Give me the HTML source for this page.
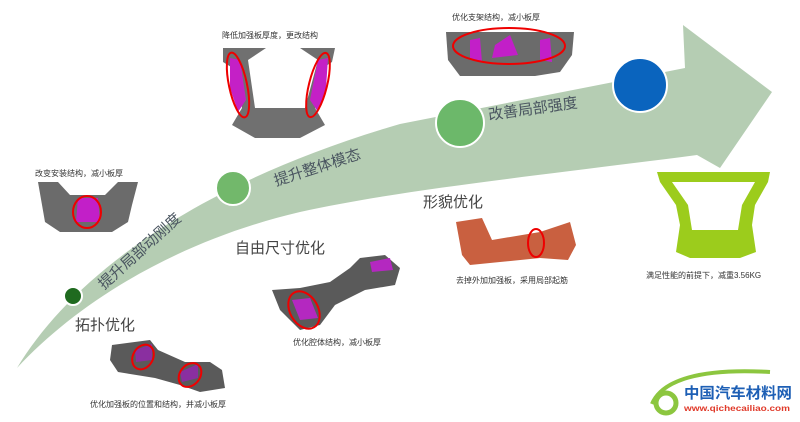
<!DOCTYPE html>
<html><head><meta charset="utf-8"><style>
html,body{margin:0;padding:0;background:#fff;width:800px;height:422px;overflow:hidden}
svg text{font-family:"Liberation Sans","Noto Sans CJK SC",sans-serif}
</style></head><body>
<svg width="800" height="422" viewBox="0 0 800 422" xmlns="http://www.w3.org/2000/svg">
<path d="M17,368 C70,280 190,185 400,124 L685,68 L683,25 L772,92 L720,168 L697,155 C520,178 400,190 300,212 C180,240 80,300 17,368 Z" fill="#b5cdb3"/>
<circle cx="640" cy="85" r="27" fill="#0a64be" stroke="#fff" stroke-width="2"/>
<circle cx="460" cy="123" r="24" fill="#6cb86a" stroke="#fff" stroke-width="2"/>
<circle cx="233" cy="188" r="17" fill="#72b86b" stroke="#fff" stroke-width="2"/>
<circle cx="73" cy="296" r="9" fill="#1f6a1f" stroke="#fff" stroke-width="2"/>
<text x="0" y="0" font-size="15" fill="#4a5560" transform="translate(104,290) rotate(-42)">提升局部动刚度</text>
<text x="0" y="0" font-size="15" fill="#4a5560" transform="translate(276,186) rotate(-18)">提升整体模态</text>
<text x="0" y="0" font-size="15" fill="#4a5560" transform="translate(489,120) rotate(-8)">改善局部强度</text>
<text x="75" y="330" font-size="15" fill="#444">拓扑优化</text>
<text x="235" y="253" font-size="15" fill="#444">自由尺寸优化</text>
<text x="423" y="207" font-size="15" fill="#444">形貌优化</text>
<text x="35" y="176" font-size="8" fill="#333">改变安装结构，减小板厚</text>
<text x="222" y="38" font-size="8" fill="#333">降低加强板厚度，更改结构</text>
<text x="452" y="20" font-size="8" fill="#333">优化支架结构，减小板厚</text>
<text x="293" y="345" font-size="8" fill="#333">优化腔体结构，减小板厚</text>
<text x="90" y="407" font-size="8" fill="#333">优化加强板的位置和结构，并减小板厚</text>
<text x="456" y="283" font-size="8" fill="#333">去掉外加加强板，采用局部起筋</text>
<text x="646" y="278" font-size="8" fill="#333">满足性能的前提下，减重3.56KG</text>
<path d="M38,182 L58,182 L70,195 L105,195 L118,182 L138,182 L132,205 L128,222 L112,232 L60,232 L45,222 Z" fill="#6b6b6b"/>
<path d="M78,198 L98,198 L100,222 L76,222 Z" fill="#c21fc8"/>
<ellipse cx="87" cy="212" rx="14" ry="16" fill="none" stroke="#e00" stroke-width="2"/>
<path d="M223,48 L335,48 L332,62 L320,70 L315,108 L325,125 L300,138 L255,138 L232,125 L242,108 L236,70 L223,62 Z" fill="#707070"/>
<path d="M248,60 L266,48 L300,48 L318,60 L305,108 L255,108 Z" fill="#fff"/>
<path d="M230,58 L240,60 L246,100 L238,112 L230,88 Z" fill="#c420c6"/>
<path d="M328,58 L318,60 L310,100 L318,112 L326,88 Z" fill="#c420c6"/>
<ellipse cx="238" cy="85" rx="9" ry="33" transform="rotate(-12 238 85)" fill="none" stroke="#e00" stroke-width="2"/>
<ellipse cx="318" cy="85" rx="9" ry="33" transform="rotate(14 318 85)" fill="none" stroke="#e00" stroke-width="2"/>
<path d="M446,32 L574,32 L572,55 L560,72 L535,76 L460,76 L448,60 Z" fill="#6b6b6b"/>
<path d="M470,40 L480,38 L482,62 L470,60 Z M540,40 L550,38 L552,62 L540,60 Z M495,45 L510,35 L518,55 L492,58 Z" fill="#c21fc8"/>
<ellipse cx="509" cy="46" rx="56" ry="18" fill="none" stroke="#e00" stroke-width="2"/>
<path d="M112,345 L150,340 L158,350 L185,362 L210,362 L222,370 L225,388 L200,392 L180,385 L155,378 L118,372 L110,360 Z" fill="#5a5a5a"/>
<path d="M135,350 L152,344 L152,360 L136,362 Z M180,372 L198,364 L198,378 L182,382 Z" fill="#8a2fa0"/>
<ellipse cx="143" cy="357" rx="10" ry="13" transform="rotate(30 143 357)" fill="none" stroke="#e00" stroke-width="2"/>
<ellipse cx="190" cy="375" rx="10" ry="13" transform="rotate(40 190 375)" fill="none" stroke="#e00" stroke-width="2"/>
<path d="M272,290 L300,288 L330,282 L350,268 L360,258 L385,255 L400,268 L395,285 L365,290 L335,305 L320,325 L300,330 L280,310 Z" fill="#5a5a5a"/>
<path d="M292,300 L310,298 L318,318 L300,320 Z M370,262 L390,258 L393,270 L372,272 Z" fill="#b428c0"/>
<ellipse cx="304" cy="310" rx="14" ry="20" transform="rotate(-30 304 310)" fill="none" stroke="#e00" stroke-width="2"/>
<path d="M456,222 L482,218 L492,240 L540,232 L570,222 L576,245 L568,260 L540,258 L500,262 L470,265 L462,255 Z" fill="#c96040"/>
<ellipse cx="536" cy="243" rx="8" ry="14" fill="none" stroke="#e00" stroke-width="2"/>
<path d="M657,172 L770,172 L768,182 L755,205 L752,225 L756,252 L740,258 L690,258 L676,252 L680,225 L676,205 L660,182 Z" fill="#9ccc1c"/>
<path d="M672,182 L755,182 L742,205 L738,230 L692,230 L688,205 Z" fill="#fff"/>
<path d="M652,404 C662,380 700,368 770,372" fill="none" stroke="#8cc63f" stroke-width="4"/>
<circle cx="666" cy="403" r="10" fill="none" stroke="#8cc63f" stroke-width="5"/>
<text x="684" y="398" font-size="15" font-weight="bold" fill="#1d5fb5" textLength="108" lengthAdjust="spacingAndGlyphs">中国汽车材料网</text>
<text x="684" y="411" font-size="8" font-weight="bold" fill="#e03a2a" textLength="106" lengthAdjust="spacingAndGlyphs">www.qichecailiao.com</text>
</svg>
</body></html>
